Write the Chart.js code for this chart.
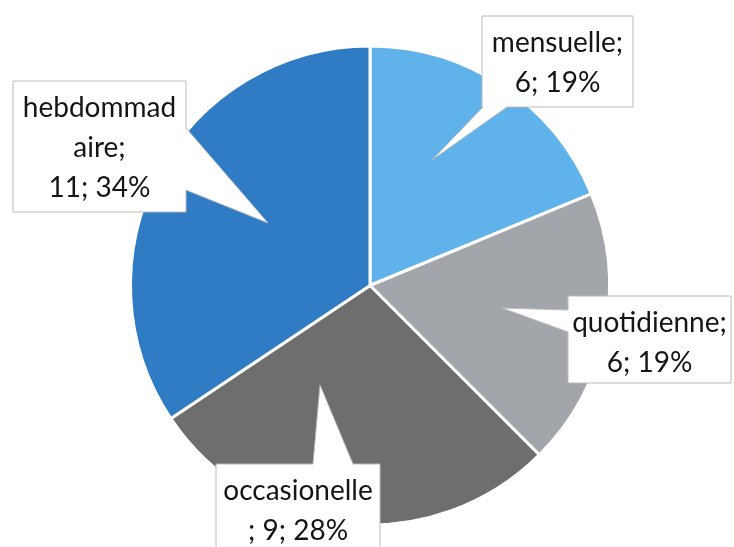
<!DOCTYPE html>
<html>
<head>
<meta charset="utf-8">
<script src="https://cdn.jsdelivr.net/npm/chart.js@4/dist/chart.umd.min.js"></script>
<style>
  html, body { margin: 0; padding: 0; background: #ffffff; }
  #wrap { width: 734px; height: 547px; }
</style>
</head>
<body>
<div id="wrap"><canvas id="pie" width="734" height="547"></canvas></div>
<script>
// frequency categories, clockwise from the top
var categories = ['mensuelle', 'quotidienne', 'occasionelle', 'hebdommadaire'];
var values = [6, 6, 9, 11];
var colors = ['#60b2ea', '#a2a5a9', '#6e6e6e', '#2f7cc4'];

// where each label's name is cut into lines
var nameLines = [
    ['mensuelle;'],
    ['quotidienne;'],
    ['occasionelle', ';'],
    ['hebdommad', 'aire;']
];

// callout boxes: rect, side the pointer leaves from, pointer base and tip
var callouts = [
    {x: 482, y: 16, w: 151, h: 91, side: 'bottom', a: 483, b: 507, tip: [432, 160]},
    {x: 568, y: 296, w: 163, h: 87, side: 'left', a: 310, b: 332, tip: [502, 308]},
    {x: 216, y: 464, w: 164, h: 95, side: 'top', a: 313, b: 353, tip: [320, 385]},
    {x: 13, y: 81, w: 173, h: 131, side: 'right', a: 128, b: 190, tip: [268, 223]}
];

function labelLines(i) {
    var total = values.reduce(function(s, v){ return s + v; }, 0);
    var pct = Math.round(values[i] / total * 100);
    var lines = nameLines[i].slice();
    var tail = values[i] + '; ' + pct + '%';
    if (lines[lines.length - 1] === ';') {
        lines[lines.length - 1] = '; ' + tail;
    } else {
        lines.push(tail);
    }
    return lines;
}

function calloutPath(ctx, c) {
    var x0 = c.x, y0 = c.y, x1 = c.x + c.w, y1 = c.y + c.h;
    ctx.beginPath();
    ctx.moveTo(x0, y0);
    if (c.side === 'top') {
        ctx.lineTo(c.a, y0); ctx.lineTo(c.tip[0], c.tip[1]); ctx.lineTo(c.b, y0);
    }
    ctx.lineTo(x1, y0);
    if (c.side === 'right') {
        ctx.lineTo(x1, c.a); ctx.lineTo(c.tip[0], c.tip[1]); ctx.lineTo(x1, c.b);
    }
    ctx.lineTo(x1, y1);
    if (c.side === 'bottom') {
        ctx.lineTo(c.b, y1); ctx.lineTo(c.tip[0], c.tip[1]); ctx.lineTo(c.a, y1);
    }
    ctx.lineTo(x0, y1);
    if (c.side === 'left') {
        ctx.lineTo(x0, c.b); ctx.lineTo(c.tip[0], c.tip[1]); ctx.lineTo(x0, c.a);
    }
    ctx.closePath();
}

var calloutLabels = {
    id: 'calloutLabels',
    afterDatasetsDraw: function(chart) {
        var ctx = chart.ctx;
        ctx.save();
        callouts.forEach(function(c, i) {
            calloutPath(ctx, c);
            ctx.fillStyle = '#ffffff';
            ctx.fill();
            ctx.strokeStyle = '#bcbcbc';
            ctx.lineWidth = 1;
            ctx.stroke();

            ctx.fillStyle = '#151515';
            ctx.font = '28px Lato';
            ctx.textAlign = 'center';
            ctx.textBaseline = 'alphabetic';
            labelLines(i).forEach(function(line, k) {
                ctx.fillText(line, c.x + c.w / 2, c.y + 36 + k * 40);
            });
        });
        ctx.restore();
    }
};

new Chart(document.getElementById('pie'), {
    type: 'pie',
    data: {
        labels: categories,
        datasets: [{
            data: values,
            backgroundColor: colors,
            borderColor: '#ffffff',
            borderWidth: 3
        }]
    },
    options: {
        responsive: false,
        animation: false,
        layout: {padding: {left: 129, right: 123, top: 44, bottom: 20}},
        plugins: {
            legend: {display: false},
            tooltip: {enabled: false}
        }
    },
    plugins: [calloutLabels]
});
</script>
</body>
</html>
